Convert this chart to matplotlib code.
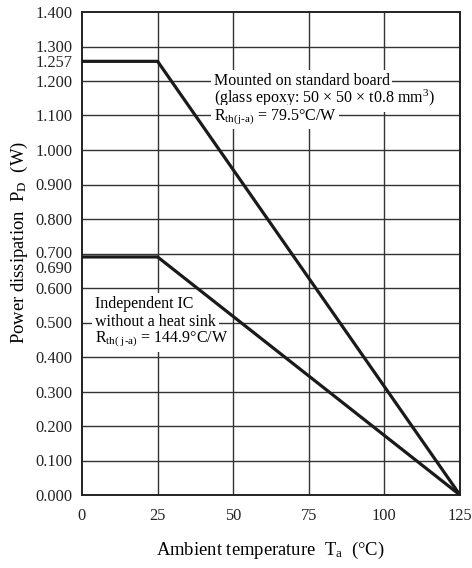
import matplotlib
matplotlib.use("Agg")
import matplotlib.pyplot as plt
from matplotlib.transforms import ScaledTranslation

temp = [0, 25, 125]
board = [1.257, 1.257, 0.0]
independent = [0.690, 0.690, 0.0]
xticks = [0, 25, 50, 75, 100, 125]
yticks = [0.0, 0.1, 0.2, 0.3, 0.4, 0.5, 0.6, 0.69, 0.7, 0.8, 0.9, 1.0, 1.1, 1.2, 1.257, 1.3, 1.4]
ygrid = [0.1, 0.2, 0.3, 0.4, 0.5, 0.6, 0.7, 0.8, 0.9, 1.0, 1.1, 1.2, 1.3]
xgrid = [25, 50, 75, 100]

plt.rcParams['font.family'] = ['Liberation Serif', 'DejaVu Serif']
plt.rcParams['mathtext.fontset'] = 'custom'
plt.rcParams['mathtext.rm'] = 'Liberation Serif'
plt.rcParams['mathtext.it'] = 'Liberation Serif:italic'

fig = plt.figure(figsize=(4.72, 5.68), dpi=100)
ax = fig.add_axes([82/472, 1-495/568, (460-82)/472, (495-12)/568])
ax.set_xlim(0, 125)
ax.set_ylim(0, 1.4)

gc = '#333333'
for y in ygrid:
    ax.axhline(y, color=gc, lw=1.0, zorder=1)
for x in xgrid:
    ax.axvline(x, color=gc, lw=1.0, zorder=1)

ax.plot(temp, board, color='#1a1a1a', lw=2.3, zorder=4, solid_joinstyle='miter')
ax.plot(temp, independent, color='#1a1a1a', lw=2.3, zorder=4, solid_joinstyle='miter')

ax.set_xticks(xticks)
ax.set_xticklabels([str(v) for v in xticks])
ax.set_yticks(yticks)
ax.set_yticklabels([f"{v:.3f}" for v in yticks])
ax.tick_params(length=0, labelsize=11.8, colors='#222222')
ax.tick_params(axis='y', pad=7)
ax.tick_params(axis='x', pad=9)
for s in ax.spines.values():
    s.set_linewidth(1.4)
    s.set_color('#222222')

# nudge the crowded 0.690 / 0.700 labels apart as in the reference
for lab, val in zip(ax.get_yticklabels(), yticks):
    if abs(val - 0.69) < 1e-9:
        lab.set_transform(lab.get_transform() + ScaledTranslation(0, -0.10, fig.dpi_scale_trans))
    elif abs(val - 0.7) < 1e-9:
        lab.set_transform(lab.get_transform() + ScaledTranslation(0, 0.02, fig.dpi_scale_trans))

bb = dict(facecolor='white', edgecolor='none', pad=2.0)
fs = 11.5
ax.text(43.5, 1.200, "Mounted on standard board", fontsize=fs, va='center', ha='left', bbox=bb, zorder=3)
ax.text(43.5, 1.150, "(glass epoxy: 50 × 50 × t0.8 mm$^{3}$)", fontsize=fs, va='center', ha='left', bbox=bb, zorder=3)
ax.text(43.5, 1.095, r"R$_{\mathrm{th(j\text{-}a)}}$ = 79.5°C/W", fontsize=fs, va='center', ha='left', bbox=bb, zorder=3)

ax.text(4.3, 0.555, "Independent IC", fontsize=fs, va='center', ha='left', bbox=bb, zorder=3)
ax.text(4.3, 0.500, "without a heat sink", fontsize=fs, va='center', ha='left', bbox=bb, zorder=3)
ax.text(4.3, 0.450, r"R$_{\mathrm{th(\ j\text{-}a)}}$ = 144.9°C/W", fontsize=fs, va='center', ha='left', bbox=bb, zorder=3)

fig.text(270/472, 1-550/568, r"Ambient temperature  T$_{\mathrm{a}}$  (°C)", fontsize=13.4, ha='center', va='center')
fig.text(19/472, 1-242/568, r"Power dissipation  P$_{\mathrm{D}}$  (W)", fontsize=13.4, ha='center', va='center', rotation=90)

fig.savefig("out.png", dpi=100)
